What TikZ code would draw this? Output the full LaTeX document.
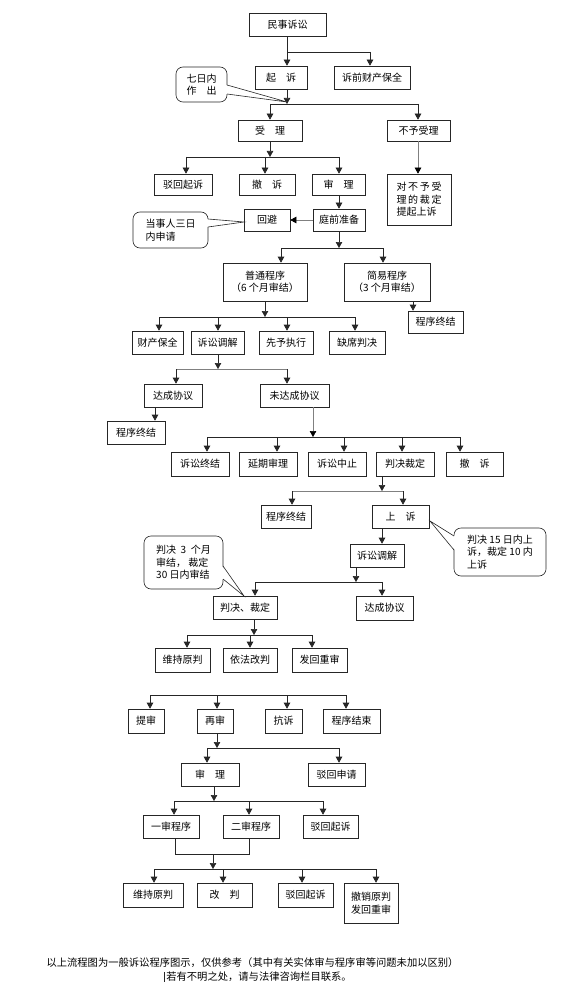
\documentclass[tikz,border=0pt]{standalone}
\usepackage{fontspec}
\setmainfont{Noto Sans CJK SC}
\usetikzlibrary{arrows.meta}
\begin{document}
\begin{tikzpicture}[x=1pt,y=-1pt,
  box/.style={draw=black!85, line width=0.6pt, inner sep=0pt, font=\fontsize{10}{12.5}\selectfont, align=center},
  sz/.style 2 args={minimum width=#1pt, minimum height=#2pt},
  line/.style={draw=black!85, line width=0.6pt},
  gline/.style={draw=black!50, line width=0.6pt},
  arr/.style={line, -{Triangle[length=6pt,width=6.5pt]}},
  garr/.style={gline, -{Triangle[length=6pt,width=6.5pt,fill=black,color=black]}},
  callout/.style={draw=black!85, line width=0.6pt, rounded corners=7pt, fill=white, inner sep=0pt, font=\fontsize{10}{12.5}\selectfont, align=left},
]
\useasboundingbox[fill=white] (0,0) rectangle (562,992);

% ---------- boxes ----------
\node[box, sz={77}{23}] (ms) at (287.5,24.5) {民事诉讼};
\node[box, sz={52}{23}] (qs) at (281,77.5) {起　诉};
\node[box, sz={76}{23}] (sq) at (372,77.5) {诉前财产保全};
\node[box, sz={64}{21}] (sl) at (270,130.5) {受　理};
\node[box, sz={63}{21}] (by) at (418.5,130.5) {不予受理};
\node[box, sz={58}{21}] (bh) at (183,184.5) {驳回起诉};
\node[box, sz={56}{21}] (cs) at (267,184.5) {撤　诉};
\node[box, sz={53}{21}] (sl2) at (338.5,184.5) {审　理};
\node[box, sz={64}{51}, align=left] (dbs) at (419,199.5) {对\,不\,予\,受\\理\,的\,裁\,定\\提起上诉};
\node[box, sz={52}{22}] (tq) at (339,220) {庭前准备};
\node[box, sz={46}{22}] (hb) at (267,220) {回避};
\node[box, sz={84}{38}] (pt) at (265,282) {普通程序\\（6 个月审结）};
\node[box, sz={86}{38}] (jy) at (387,282) {简易程序\\（3 个月审结）};
\node[box, sz={55}{22}] (zj1) at (435.5,322) {程序终结};
\node[box, sz={51}{23}] (cb) at (157.5,342.5) {财产保全};
\node[box, sz={53}{23}] (ts) at (217.5,342.5) {诉讼调解};
\node[box, sz={54}{23}] (xy) at (286,342.5) {先予执行};
\node[box, sz={56}{23}] (qx) at (357,342.5) {缺席判决};
\node[box, sz={58}{23}] (dc) at (173,395.5) {达成协议};
\node[box, sz={69}{23}] (wdc) at (294.5,395.5) {未达成协议};
\node[box, sz={58}{23}] (zj2) at (136,432.5) {程序终结};
\node[box, sz={58}{24}] (sz1) at (200,464) {诉讼终结};
\node[box, sz={58}{24}] (yq) at (268,464) {延期审理};
\node[box, sz={58}{24}] (zz) at (337,464) {诉讼中止};
\node[box, sz={58}{24}] (pc) at (405,464) {判决裁定};
\node[box, sz={57}{24}] (cs2) at (474.5,464) {撤　诉};
\node[box, sz={50}{23}] (zj3) at (286,516.5) {程序终结};
\node[box, sz={57}{23}] (ss) at (400.5,516.5) {上　诉};
\node[box, sz={54}{23}] (ts2) at (377,555.5) {诉讼调解};
\node[box, sz={64}{23}] (pjcd) at (245,607.5) {判决、裁定};
\node[box, sz={57}{24}] (dc2) at (384.5,608) {达成协议};
\node[box, sz={55}{24}] (wc) at (182.5,660) {维持原判};
\node[box, sz={54}{24}] (yf) at (250,660) {依法改判};
\node[box, sz={55}{24}] (fh) at (319.5,660) {发回重审};
\node[box, sz={36}{24}] (ts3) at (146,721) {提审};
\node[box, sz={36}{24}] (zs) at (215,721) {再审};
\node[box, sz={37}{24}] (ks) at (283.5,721) {抗诉};
\node[box, sz={57}{24}] (cj) at (351.5,721) {程序结束};
\node[box, sz={58}{23}] (sl3) at (210,774.5) {审　理};
\node[box, sz={57}{23}] (bs) at (336.5,774.5) {驳回申请};
\node[box, sz={56}{23}] (ys) at (171,826.5) {一审程序};
\node[box, sz={56}{23}] (es) at (251,826.5) {二审程序};
\node[box, sz={55}{23}] (bq) at (330.5,826.5) {驳回起诉};
\node[box, sz={60}{24}] (wc2) at (153,895) {维持原判};
\node[box, sz={55}{24}] (gp) at (224.5,895) {改　判};
\node[box, sz={55}{24}] (bq2) at (305.5,895) {驳回起诉};
\node[box, sz={54}{40}] (cx) at (371,903) {撤销原判\\发回重审};

% ---------- connectors ----------
\coordinate (j1) at (287,52); \coordinate (k1) at (370,52);
\draw[arr] (ms.south -| j1) -- (j1 |- qs.north);
\draw[line] (j1) -- (k1);
\draw[arr] (k1) -- (k1 |- sq.north);

\coordinate (j2) at (287,104); \coordinate (a2) at (270,104); \coordinate (b2) at (418,104);
\draw[arr] (qs.south -| j2) -- (j2);
\draw[line] (a2) -- (b2);
\draw[arr] (a2) -- (a2 |- sl.north);
\draw[arr] (b2) -- (b2 |- by.north);

\coordinate (j3) at (270,157); \coordinate (a3) at (186,157); \coordinate (b3) at (265,157); \coordinate (c3) at (339,157);
\draw[arr] (sl.south -| j3) -- (j3);
\draw[line] (a3) -- (c3);
\draw[arr] (a3) -- (a3 |- bh.north);
\draw[arr] (b3) -- (b3 |- cs.north);
\draw[arr] (c3) -- (c3 |- sl2.north);

\draw[garr] (by.south -| b2) -- (b2 |- dbs.north);
\draw[arr] (sl2.south -| c3) -- (c3 |- tq.north);
\draw[garr] (tq.west) -- (hb.east);

\coordinate (j4) at (339,248); \coordinate (a4) at (281,248); \coordinate (b4) at (383,248);
\draw[arr] (tq.south -| j4) -- (j4);
\draw[line] (a4) -- (b4);
\draw[arr] (a4) -- (a4 |- pt.north);
\draw[arr] (b4) -- (b4 |- jy.north);

\coordinate (j5) at (265,317); \coordinate (a5) at (159,317); \coordinate (b5) at (218,317);
\coordinate (c5) at (287,317); \coordinate (d5) at (355,317);
\draw[arr] (pt.south -| j5) -- (j5);
\draw[line] (a5) -- (d5);
\draw[arr] (a5) -- (a5 |- cb.north);
\draw[arr] (b5) -- (b5 |- ts.north);
\draw[arr] (c5) -- (c5 |- xy.north);
\draw[arr] (d5) -- (d5 |- qx.north);

\coordinate (x6) at (413,0);
\draw[arr] (jy.south -| x6) -- (x6 |- zj1.north);

\coordinate (j6) at (218,369); \coordinate (a6) at (176,369); \coordinate (b6) at (287,369);
\draw[arr] (ts.south -| j6) -- (j6);
\draw[gline] (a6) -- (b6);
\draw[arr] (a6) -- (a6 |- dc.north);
\draw[arr] (b6) -- (b6 |- wdc.north);

\coordinate (x7) at (155,0);
\draw[arr] (dc.south -| x7) -- (x7 |- zj2.north);

\coordinate (j8) at (313,437); \coordinate (a8) at (207,437); \coordinate (b8) at (277,437);
\coordinate (c8) at (344,437); \coordinate (d8) at (402,437); \coordinate (e8) at (460,437);
\draw[garr] (wdc.south -| j8) -- (j8);
\draw[line] (a8) -- (e8);
\draw[arr] (a8) -- (a8 |- sz1.north);
\draw[arr] (b8) -- (b8 |- yq.north);
\draw[arr] (c8) -- (c8 |- zz.north);
\draw[arr] (d8) -- (d8 |- pc.north);
\draw[arr] (e8) -- (e8 |- cs2.north);

\coordinate (j9) at (382,491); \coordinate (a9) at (292,491); \coordinate (b9) at (403,491);
\draw[arr] (pc.south -| j9) -- (j9);
\draw[gline] (a9) -- (b9);
\draw[arr] (a9) -- (a9 |- zj3.north);
\draw[arr] (b9) -- (b9 |- ss.north);

\coordinate (x10) at (382,0);
\draw[arr] (ss.south -| x10) -- (x10 |- ts2.north);

\coordinate (j11) at (356,582); \coordinate (a11) at (255,582); \coordinate (b11) at (382,582);
\draw[arr] (ts2.south -| j11) -- (j11);
\draw[line] (a11) -- (b11);
\draw[arr] (a11) -- (a11 |- pjcd.north);
\draw[arr] (b11) -- (b11 |- dc2.north);

\coordinate (j12) at (254,635); \coordinate (a12) at (187,635); \coordinate (b12) at (250,635); \coordinate (c12) at (312,635);
\draw[arr] (pjcd.south -| j12) -- (j12);
\draw[line] (a12) -- (c12);
\draw[arr] (a12) -- (a12 |- wc.north);
\draw[arr] (b12) -- (b12 |- yf.north);
\draw[arr] (c12) -- (c12 |- fh.north);

\coordinate (a13) at (150,695); \coordinate (b13) at (217,695); \coordinate (c13) at (287,695); \coordinate (d13) at (346,695);
\draw[line] (a13) -- (d13);
\draw[arr] (a13) -- (a13 |- ts3.north);
\draw[arr] (b13) -- (b13 |- zs.north);
\draw[arr] (c13) -- (c13 |- ks.north);
\draw[arr] (d13) -- (d13 |- cj.north);

\coordinate (j14) at (217,748); \coordinate (a14) at (207,748); \coordinate (b14) at (339,748);
\draw[arr] (zs.south -| j14) -- (j14);
\draw[line] (a14) -- (b14);
\draw[arr] (a14) -- (a14 |- sl3.north);
\draw[arr] (b14) -- (b14 |- bs.north);

\coordinate (j15) at (214,801); \coordinate (a15) at (174,801); \coordinate (b15) at (249,801); \coordinate (c15) at (323,801);
\draw[arr] (sl3.south -| j15) -- (j15);
\draw[line] (a15) -- (c15);
\draw[arr] (a15) -- (a15 |- ys.north);
\draw[arr] (b15) -- (b15 |- es.north);
\draw[arr] (c15) -- (c15 |- bq.north);

\coordinate (m1) at (175,854); \coordinate (m2) at (249,854); \coordinate (j16) at (213,854);
\coordinate (a16) at (154,869); \coordinate (b16) at (223,869); \coordinate (c16) at (302,869); \coordinate (d16) at (376,869);
\draw[line] (ys.south -| m1) -- (m1) -- (m2) -- (es.south -| m2);
\draw[arr] (j16) -- (j16 |- a16);
\draw[line] (a16) -- (d16);
\draw[arr] (a16) -- (a16 |- wc2.north);
\draw[arr] (b16) -- (b16 |- gp.north);
\draw[arr] (c16) -- (c16 |- bq2.north);
\draw[arr] (d16) -- (d16 |- cx.north);

% ---------- callouts ----------
\node[callout, sz={51}{35}] (c1) at (201.5,84.5) {七日内\\作　出};
\coordinate (t1) at (287,102); \coordinate (p1) at (227,85); \coordinate (q1) at (227,94);
\fill[white] ([xshift=-1pt]p1) -- (t1) -- ([xshift=-1pt]q1) -- cycle;
\draw[line] (p1) -- (t1) -- (q1);

\node[callout, sz={75}{36}] (c2) at (170.5,230) {当事人三日\\内申请};
\coordinate (t2) at (244,222); \coordinate (p2) at (208,219); \coordinate (q2) at (208,227);
\fill[white] ([xshift=-1pt]p2) -- (t2) -- ([xshift=-1pt]q2) -- cycle;
\draw[line] (p2) -- (t2) -- (q2);

\node[callout, sz={92}{48}] (c3) at (500,552) {判决 15 日内上\\诉，裁定 10 内\\上诉};
\coordinate (t3) at (430,521); \coordinate (p3) at (454,536); \coordinate (q3) at (454,550);
\fill[white] ([xshift=1pt]p3) -- (t3) -- ([xshift=1pt]q3) -- cycle;
\draw[line] (p3) -- (t3) -- (q3);

\node[callout, sz={79}{53}] (c4) at (183.5,562.5) {判决\ \ 3\ \ 个月\\审结，\ 裁定\\30 日内审结};
\coordinate (t4) at (244,596); \coordinate (p4) at (223,566); \coordinate (q4) at (223,579);
\fill[white] ([xshift=-1pt]p4) -- (t4) -- ([xshift=-1pt]q4) -- cycle;
\draw[line] (p4) -- (t4) -- (q4);

% ---------- footer ----------
\node[font=\fontsize{10.3}{12}\selectfont, inner sep=0pt] (f1) at (252.5,963) {以上流程图为一般诉讼程序图示，仅供参考（其中有关实体审与程序审等问题未加以区别）};
\node[font=\fontsize{10.3}{12}\selectfont, inner sep=0pt] (f2) at (259,977) {若有不明之处，请与法律咨询栏目联系。};
\draw[line] ([xshift=-1.5pt]f2.north west) -- ([xshift=-1.5pt]f2.south west);
\end{tikzpicture}
\end{document}
